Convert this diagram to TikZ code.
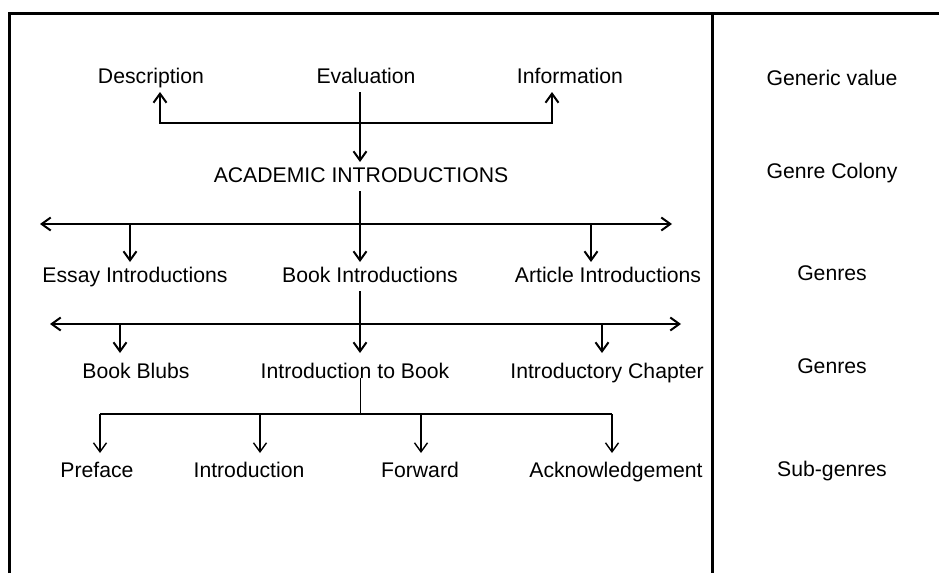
\documentclass[tikz,border=0pt]{standalone}
\usepackage{fontspec}
\setmainfont{Liberation Sans}
\usetikzlibrary{arrows.meta}
\begin{document}
\begin{tikzpicture}[x=1pt,y=-1pt,
  lbl/.style={anchor=base,inner sep=0pt,outer sep=5pt,text height=15pt,text depth=4pt,
              font=\fontsize{21.2}{25}\selectfont},
  barb/.tip={Straight Barb[length=9pt,width=13pt]},
  tip/.style={-barb},
  bitip/.style={barb-barb},
  main/.style={line width=2pt},
  thin/.style={line width=1.4pt},
  stem/.style={line width=1pt},
  frame/.style={line width=3pt}]
\useasboundingbox (0,0) rectangle (939,573);
\fill[white] (0,0) rectangle (939,573);

% outer frame and column divider
\draw[frame] (9,573) -- (9,13) -- (939,13);
\draw[frame] (712,13) -- (712,573);

% left column: the tree of introductions
\node[lbl] (desc)    at (151,83)  {Description};
\node[lbl] (eval)    at (366,83)  {Evaluation};
\node[lbl] (info)    at (570,83)  {Information};
\node[lbl] (acad)    at (361,182) {ACADEMIC INTRODUCTIONS};
\node[lbl] (essay)   at (135,282) {Essay Introductions};
\node[lbl] (bookint) at (370,282) {Book Introductions};
\node[lbl] (article) at (608,282) {Article Introductions};
\node[lbl] (blubs)   at (136,378) {Book Blubs};
\node[lbl] (itb)     at (355,378) {Introduction to Book};
\node[lbl] (chapter) at (607,378) {Introductory Chapter};
\node[lbl] (preface) at (97,477)  {Preface};
\node[lbl] (intro)   at (249,477) {Introduction};
\node[lbl] (forward) at (420,477) {Forward};
\node[lbl] (ack)     at (616,477) {Acknowledgement};

% right column: levels
\node[lbl] (generic)   at (832,85)  {Generic value};
\node[lbl] (colony)    at (832,178) {Genre Colony};
\node[lbl] (genres1)   at (832,280) {Genres};
\node[lbl] (genres2)   at (832,373) {Genres};
\node[lbl] (subgenres) at (832,476) {Sub-genres};

% junction points
\coordinate (spine) at (360,0);
\coordinate (tl)  at (160,123);
\coordinate (tr)  at (552,123);
\coordinate (b1l) at (40,224);
\coordinate (b1r) at (672,224);
\coordinate (d1a) at (130,224);
\coordinate (d1c) at (591,224);
\coordinate (b2l) at (50,324);
\coordinate (b2r) at (681,324);
\coordinate (d2a) at (120,324);
\coordinate (d2c) at (602,324);
\coordinate (b3l) at (100,414);
\coordinate (b3b) at (260,414);
\coordinate (b3c) at (421,414);
\coordinate (b3r) at (612,414);

% generic values
\draw[main,bitip] (tl |- desc.south) -- (tl) -- (tr) -- (tr |- info.south);
\draw[main,tip] (eval.south -| spine) -- (acad.north -| spine);

% genre colony to genres
\draw[main,tip] (acad.south -| spine) -- (bookint.north -| spine);
\draw[main,bitip] (b1l) -- (b1r);
\draw[main,tip] (d1a) -- (d1a |- essay.north);
\draw[main,tip] (d1c) -- (d1c |- article.north);

% book introductions
\draw[main,tip,shorten >=5pt] (bookint.south -| spine) -- (itb.north -| spine);
\draw[main,bitip] (b2l) -- (b2r);
\draw[main,tip,shorten >=5pt] (d2a) -- (d2a |- blubs.north);
\draw[main,tip,shorten >=5pt] (d2c) -- (d2c |- chapter.north);

% sub-genres
\draw[stem] (itb.base -| spine) -- (spine |- b3l);
\draw[thin] (b3l) -- (b3r);
\draw[thin,tip,shorten >=4pt] (b3l) -- (b3l |- preface.north);
\draw[thin,tip,shorten >=4pt] (b3b) -- (b3b |- intro.north);
\draw[thin,tip,shorten >=4pt] (b3c) -- (b3c |- forward.north);
\draw[thin,tip,shorten >=4pt] (b3r) -- (b3r |- ack.north);
\end{tikzpicture}
\end{document}
